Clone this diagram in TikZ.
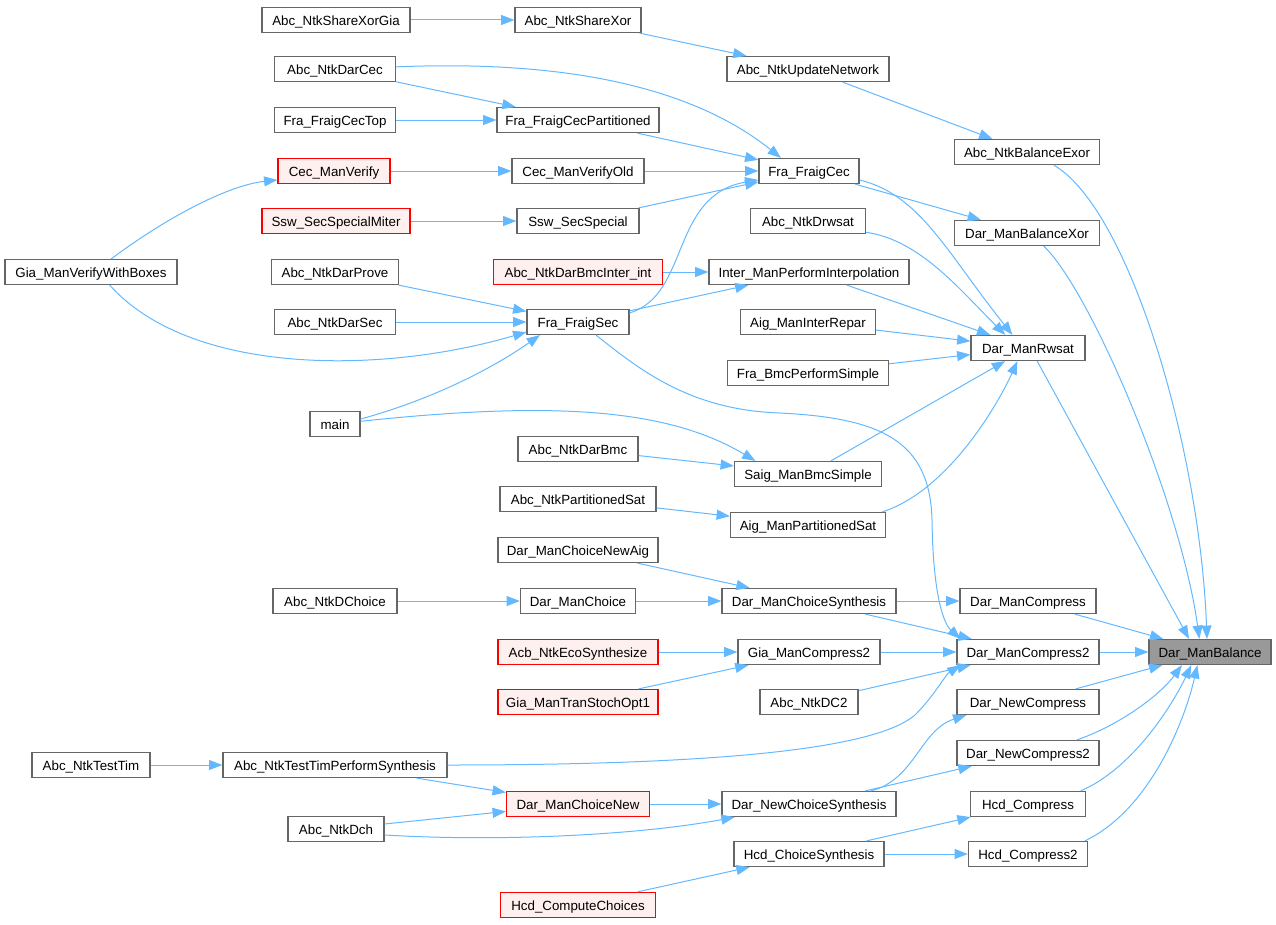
\documentclass[tikz,border=0pt]{standalone}
\usepackage{fontspec}
\setmainfont{Liberation Sans}
\usepackage{tikz}
\usetikzlibrary{arrows.meta}

\definecolor{edgeblue}{RGB}{99,184,255}
\definecolor{boxgray}{RGB}{102,102,102}
\definecolor{redfill}{RGB}{255,240,240}
\definecolor{rootgray}{RGB}{153,153,153}

\begin{document}
\begin{tikzpicture}[x=0.75pt, y=-0.75pt,
		fn/.style={draw=boxgray, fill=white, line width=0.9pt, minimum height=18.75pt,
						inner sep=0pt, text height=8pt, text depth=0pt,
						font=\fontsize{10}{12}\selectfont},
		w/.style={minimum width=#1*0.75pt},
		fnred/.style={fn, draw=red, fill=redfill},
		fnroot/.style={fn, fill=rootgray},
		link/.style={draw=edgeblue, line width=0.75pt, -{Triangle[length=10pt, width=7.5pt]}}]

		\useasboundingbox (0,0) rectangle (1276,924);

		% column 1
		\node[fn, w=172] (gvb) at (91,272) {Gia\_ManVerifyWithBoxes};
		\node[fn, w=118] (ntt) at (91,765) {Abc\_NtkTestTim};

		% column 2
		\node[fn, w=148] (sxg) at (336,20) {Abc\_NtkShareXorGia};
		\node[fn, w=121] (ndc) at (335,69) {Abc\_NtkDarCec};
		\node[fn, w=121] (fct) at (335,120) {Fra\_FraigCecTop};
		\node[fnred, w=112] (cv) at (334,171) {Cec\_ManVerify};
		\node[fnred, w=148] (ssm) at (336,221) {Ssw\_SecSpecialMiter};
		\node[fn, w=127] (adp) at (335,272) {Abc\_NtkDarProve};
		\node[fn, w=121] (ads) at (335,322) {Abc\_NtkDarSec};
		\node[fn, w=50] (mn) at (335,424) {main};
		\node[fn, w=124] (ndch) at (335,601) {Abc\_NtkDChoice};
		\node[fn, w=224] (ntp) at (335,765) {Abc\_NtkTestTimPerformSynthesis};
		\node[fn, w=96] (ndh) at (336,829) {Abc\_NtkDch};

		% column 3
		\node[fn, w=126] (sx) at (578,20) {Abc\_NtkShareXor};
		\node[fn, w=162] (fcp) at (578,120) {Fra\_FraigCecPartitioned};
		\node[fn, w=132] (cvo) at (578,171) {Cec\_ManVerifyOld};
		\node[fn, w=122] (ss) at (578,221) {Ssw\_SecSpecial};
		\node[fnred, w=169] (bmi) at (578,272) {Abc\_NtkDarBmcInter\_int};
		\node[fn, w=102] (fs) at (578,322) {Fra\_FraigSec};
		\node[fn, w=120] (adb) at (578,449) {Abc\_NtkDarBmc};
		\node[fn, w=156] (nps) at (578,499) {Abc\_NtkPartitionedSat};
		\node[fn, w=160] (cna) at (578,550) {Dar\_ManChoiceNewAig};
		\node[fn, w=115] (dch) at (578,601) {Dar\_ManChoice};
		\node[fnred, w=160] (aes) at (578,652) {Acb\_NtkEcoSynthesize};
		\node[fnred, w=160] (gto) at (578,702) {Gia\_ManTranStochOpt1};
		\node[fnred, w=143] (dcn) at (578,804) {Dar\_ManChoiceNew};
		\node[fnred, w=155] (hcc) at (578,905) {Hcd\_ComputeChoices};

		% column 4
		\node[fn, w=162] (upd) at (808,69) {Abc\_NtkUpdateNetwork};
		\node[fn, w=100] (fc) at (809,171) {Fra\_FraigCec};
		\node[fn, w=115] (adw) at (808,221) {Abc\_NtkDrwsat};
		\node[fn, w=200] (ipi) at (809,272) {Inter\_ManPerformInterpolation};
		\node[fn, w=135] (air) at (808,322) {Aig\_ManInterRepar};
		\node[fn, w=161] (fbs) at (808,373) {Fra\_BmcPerformSimple};
		\node[fn, w=147] (sbs) at (808,474) {Saig\_ManBmcSimple};
		\node[fn, w=155] (aps) at (808,525) {Aig\_ManPartitionedSat};
		\node[fn, w=174] (dcs) at (809,601) {Dar\_ManChoiceSynthesis};
		\node[fn, w=142] (gc2) at (809,652) {Gia\_ManCompress2};
		\node[fn, w=98] (ndc2) at (809,702) {Abc\_NtkDC2};
		\node[fn, w=174] (dncs) at (809,804) {Dar\_NewChoiceSynthesis};
		\node[fn, w=150] (hcs) at (809,854) {Hcd\_ChoiceSynthesis};

		% column 5
		\node[fn, w=145] (bxe) at (1027,152) {Abc\_NtkBalanceExor};
		\node[fn, w=145] (dbx) at (1027,233) {Dar\_ManBalanceXor};
		\node[fn, w=114] (rws) at (1028,348) {Dar\_ManRwsat};
		\node[fn, w=136] (dmc) at (1028,601) {Dar\_ManCompress};
		\node[fn, w=142] (dc2) at (1028,652) {Dar\_ManCompress2};
		\node[fn, w=142] (dnc) at (1028,702) {Dar\_NewCompress};
		\node[fn, w=142] (dnc2) at (1028,753) {Dar\_NewCompress2};
		\node[fn, w=115] (hc) at (1028,804) {Hcd\_Compress};
		\node[fn, w=119] (hc2) at (1028,854) {Hcd\_Compress2};

		\node[fnroot, w=122] (bal) at (1210,652) {Dar\_ManBalance};

		% straight calls
		\draw[link] (sxg) -- (sx);
		\draw[link] (sx) -- (upd);
		\draw[link] (upd) -- (bxe);
		\draw[link] (ndc) -- (fcp);
		\draw[link] (fct) -- (fcp);
		\draw[link] (fcp) -- (fc);
		\draw[link] (cv) -- (cvo);
		\draw[link] (cvo) -- (fc);
		\draw[link] (ssm) -- (ss);
		\draw[link] (ss) -- (fc);
		\draw[link] (fc) -- (dbx);
		\draw[link] (bmi) -- (ipi);
		\draw[link] (adp) -- (fs);
		\draw[link] (ads) -- (fs);
		\draw[link] (fs) -- (ipi);
		\draw[link] (ipi) -- (rws);
		\draw[link] (air) -- (rws);
		\draw[link] (fbs) -- (rws);
		\draw[link] (adb) -- (sbs);
		\draw[link] (sbs) -- (rws);
		\draw[link] (nps) -- (aps);
		\draw[link] (cna) -- (dcs);
		\draw[link] (ndch) -- (dch);
		\draw[link] (dch) -- (dcs);
		\draw[link] (dcs) -- (dmc);
		\draw[link] (dcs) -- (dc2);
		\draw[link] (aes) -- (gc2);
		\draw[link] (gto) -- (gc2);
		\draw[link] (gc2) -- (dc2);
		\draw[link] (ndc2) -- (dc2);
		\draw[link] (ntt) -- (ntp);
		\draw[link] (ntp) -- (dcn);
		\draw[link] (ndh) -- (dcn);
		\draw[link] (dcn) -- (dncs);
		\draw[link] (dncs) -- (dnc2);
		\draw[link] (hcs) -- (hc);
		\draw[link] (hcs) -- (hc2);
		\draw[link] (hcc) -- (hcs);
		\draw[link] (dmc) -- (bal);
		\draw[link] (dc2) -- (bal);
		\draw[link] (dnc) -- (bal);
		\draw[link] (rws.-55) -- (bal.148);

		% curved calls
		\draw[link] (ndc.2) .. controls (560,60) and (690,85) .. (fc.155);
		\draw[link] (gvb.33) .. controls (170,215) and (230,185) .. (cv.189);
		\draw[link] (gvb.-35) .. controls (190,375) and (380,375) .. (fs.191);
		\draw[link] (fs.10) .. controls (690,295) and (670,195) .. (fc.190);
		\draw[link] (fc.-10) .. controls (920,195) and (945,250) .. (rws.140);
		\draw[link] (adw.-11) .. controls (920,240) and (960,290) .. (rws.150);
		\draw[link] (aps.10) .. controls (950,490) and (1000,400) .. (rws.231);
		\draw[link] (mn.11) .. controls (430,400) and (490,370) .. (fs.199);
		\draw[link] (mn.6) .. controls (560,400) and (670,410) .. (sbs.166);
		\draw[link] (fs.-36) .. controls (640,370) and (690,410) .. (780,413)
			.. controls (880,418) and (930,440) .. (932,520)
			.. controls (933,600) and (945,625) .. (dc2.169);
		\draw[link] (ntp.east) .. controls (750,765) and (880,745) .. (915,715)
			.. controls (935,695) and (945,675) .. (dc2.191);
		\draw[link] (ndh.-7) .. controls (500,842) and (640,835) .. (dncs.190);
		\draw[link] (dncs.12) .. controls (915,780) and (920,730) .. (dnc.192);
		\draw[link] (bxe.-26) .. controls (1130,210) and (1200,450) .. (bal.103);
		\draw[link] (dbx.-38) .. controls (1090,290) and (1180,500) .. (bal.129);
		\draw[link] (dnc2.15) .. controls (1120,725) and (1160,695) .. (bal.205);
		\draw[link] (hc.14) .. controls (1130,770) and (1170,710) .. (bal.215);
		\draw[link] (hc2.13) .. controls (1150,810) and (1185,720) .. (bal.226);
	\end{tikzpicture}
\end{document}
